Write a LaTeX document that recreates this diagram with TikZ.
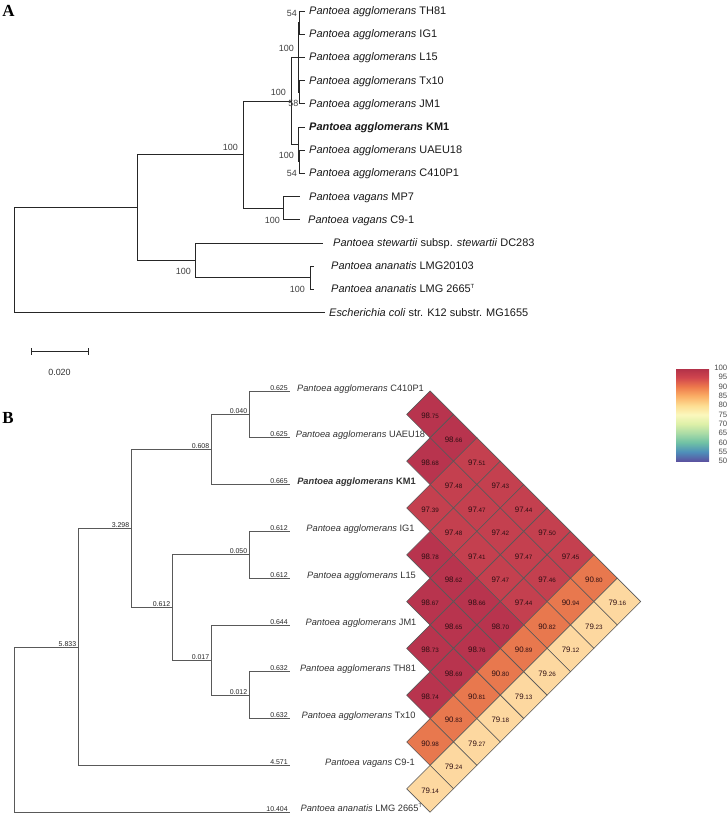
\documentclass[tikz,border=0pt]{standalone}
\usepackage{fontspec}
\setmainfont{Liberation Sans}
\newfontfamily\serifbf{Liberation Serif}
\definecolor{heat98}{HTML}{B8344E}
\definecolor{heat97}{HTML}{C4404F}
\definecolor{heat90}{HTML}{E8784E}
\definecolor{heat79}{HTML}{FDD8A0}
\definecolor{sp100}{HTML}{B03048}
\definecolor{sp95}{HTML}{D0454E}
\definecolor{sp90}{HTML}{EE7A4C}
\definecolor{sp85}{HTML}{FBAF66}
\definecolor{sp80}{HTML}{FDDD92}
\definecolor{sp75}{HTML}{FBF8BD}
\definecolor{sp70}{HTML}{DDF0A8}
\definecolor{sp65}{HTML}{A9DBA6}
\definecolor{sp60}{HTML}{6FC1A5}
\definecolor{sp55}{HTML}{4E8FBA}
\definecolor{sp50}{HTML}{5B52A0}
\definecolor{celltext}{HTML}{2E0E12}
\pgfdeclareverticalshading{spectralbar}{33bp}{color(0bp)=(sp50); color(9.3bp)=(sp55); color(18.6bp)=(sp60); color(27.9bp)=(sp65); color(37.2bp)=(sp70); color(46.5bp)=(sp75); color(55.8bp)=(sp80); color(65.1bp)=(sp85); color(74.4bp)=(sp90); color(83.7bp)=(sp95); color(93bp)=(sp100)}
\tikzset{
  treeA/.style={line width=0.75bp, draw=black!85},
  treeB/.style={line width=0.85bp, draw=black!65},
  taxA/.style={anchor=base west, inner sep=0, font=\fontsize{11}{13}\selectfont, text=black!90},
  boot/.style={anchor=base east, inner sep=0, font=\fontsize{9}{11}\selectfont, text=black!75},
  taxB/.style={anchor=base, inner sep=0, font=\fontsize{9.3}{11}\selectfont, text=black!80},
  bl/.style={anchor=south east, inner sep=0.6bp, font=\fontsize{7}{8}\selectfont, text=black!85},
  cellbox/.style={line width=0.6bp, draw=black!65},
  cellnum/.style={inner sep=0, text=celltext, font=\fontsize{7.9}{8}\selectfont},
  cbl/.style={anchor=east, inner sep=0, font=\fontsize{7.8}{8}\selectfont, text=black!70},
  panel/.style={inner sep=0, font=\fontsize{17}{19}\selectfont\serifbf\bfseries}
}
\begin{document}
\begin{tikzpicture}[x=1bp,y=-1bp]
\useasboundingbox (0,0) rectangle (728,814);
\fill[white] (0,0) rectangle (728,814);

% ---------------- Panel A ----------------
\node[panel] (labA) at (8.5,10.5) {A};

% nodes
\coordinate (ar) at (14,260.05);
\coordinate (a137) at (137,207.5);
\coordinate (a243) at (243,154.55);
\coordinate (aagg) at (291,100.9);
\coordinate (aup) at (298.5,57.4);
\coordinate (ai1) at (299.5,22.6);
\coordinate (ai2) at (299.5,92.2);
\coordinate (alo) at (298.5,144.4);
\coordinate (ai3) at (299.5,161.8);
\coordinate (avag) at (283,208.2);
\coordinate (a195) at (195,260.4);
\coordinate (a310) at (310,277.8);
% tips
\coordinate (eTH81) at (305,11);
\coordinate (eIG1) at (305,34.2);
\coordinate (eL15) at (305,57.4);
\coordinate (eTx10) at (305,80.6);
\coordinate (eJM1) at (305,103.8);
\coordinate (eKM1) at (305,127);
\coordinate (eUAEU) at (305,150.2);
\coordinate (eC410) at (305,173.4);
\coordinate (eMP7) at (300,196.6);
\coordinate (eC91) at (300,219.8);
\coordinate (eStew) at (323,243);
\coordinate (eL201) at (314,266.2);
\coordinate (eL266) at (314,289.4);
\coordinate (eEcoli) at (325,312.6);

\draw[treeA] (ar) |- (a137);
\draw[treeA] (ar) |- (eEcoli);
\draw[treeA] (a137) |- (a243);
\draw[treeA] (a137) |- (a195);
\draw[treeA] (a243) |- (aagg);
\draw[treeA] (a243) |- (avag);
\draw[treeA] (aagg) |- (aup);
\draw[treeA] (aagg) |- (alo);
\draw[treeA] (aup) |- (ai1);
\draw[treeA] (aup) |- (eL15);
\draw[treeA] (aup) |- (ai2);
\draw[treeA] (ai1) |- (eTH81);
\draw[treeA] (ai1) |- (eIG1);
\draw[treeA] (ai2) |- (eTx10);
\draw[treeA] (ai2) |- (eJM1);
\draw[treeA] (alo) |- (eKM1);
\draw[treeA] (alo) |- (ai3);
\draw[treeA] (ai3) |- (eUAEU);
\draw[treeA] (ai3) |- (eC410);
\draw[treeA] (avag) |- (eMP7);
\draw[treeA] (avag) |- (eC91);
\draw[treeA] (a195) |- (eStew);
\draw[treeA] (a195) |- (a310);
\draw[treeA] (a310) |- (eL201);
\draw[treeA] (a310) |- (eL266);

% taxon labels A
\node[taxA] (tTH81) at (309,14.5) {\textit{Pantoea agglomerans} TH81};
\node[taxA] (tIG1) at (309,37.7) {\textit{Pantoea agglomerans} IG1};
\node[taxA] (tL15) at (309,60.9) {\textit{Pantoea agglomerans} L15};
\node[taxA] (tTx10) at (309,84.1) {\textit{Pantoea agglomerans} Tx10};
\node[taxA] (tJM1) at (309,107.3) {\textit{Pantoea agglomerans} JM1};
\node[taxA] (tKM1) at (309,130.5) {\bfseries\itshape Pantoea agglomerans \upshape KM1};
\node[taxA] (tUAEU) at (309,153.7) {\textit{Pantoea agglomerans} UAEU18};
\node[taxA] (tC410) at (309,176.9) {\textit{Pantoea agglomerans} C410P1};
\node[taxA] (tMP7) at (309,200.1) {\textit{Pantoea vagans} MP7};
\node[taxA] (tC91) at (308,223.3) {\textit{Pantoea vagans} C9-1};
\node[taxA] (tStew) at (333,246.5) {\textit{Pantoea stewartii} subsp. \textit{stewartii} DC283};
\node[taxA] (tL201) at (331,269.7) {\textit{Pantoea ananatis} LMG20103};
\node[taxA] (tL266) at (331,292.9) {\textit{Pantoea ananatis} LMG 2665\textsuperscript{\fontsize{6}{7}\selectfont T}};
\node[taxA] (tEcoli) at (329,316.1) {\textit{Escherichia coli} str. K12 substr. MG1655};

% bootstrap values
\node[boot] (b1) at (297,17) {54};
\node[boot] (b2) at (294,52) {100};
\node[boot] (b3) at (286,95) {100};
\node[boot] (b4) at (298.5,106.5) {58};
\node[boot] (b5) at (294,158) {100};
\node[boot] (b6) at (297,176) {54};
\node[boot] (b7) at (238,150) {100};
\node[boot] (b8) at (280,223) {100};
\node[boot] (b9) at (191,274) {100};
\node[boot] (b10) at (305,292) {100};

% scale bar
\coordinate (sb1) at (31,351);
\coordinate (sb2) at (88,351);
\draw[treeA] (sb1) -- (sb2);
\draw[treeA] ([yshift=-3.5bp]sb1) -- ([yshift=3.5bp]sb1);
\draw[treeA] ([yshift=-3.5bp]sb2) -- ([yshift=3.5bp]sb2);
\node[inner sep=0, font=\fontsize{9}{11}\selectfont, text=black!80] (sbl) at (59.5,372) {0.020};

% ---------------- Panel B ----------------
\node[panel] (labB) at (8,417.5) {B};

\coordinate (br) at (14,729.6);
\coordinate (b5833) at (78,647);
\coordinate (b3298) at (131,528.5);
\coordinate (b608) at (211,449.5);
\coordinate (b040) at (249,414.4);
\coordinate (b612) at (172,607.45);
\coordinate (b050) at (249,554.8);
\coordinate (b017) at (211,660.1);
\coordinate (b012) at (249,695.2);
\coordinate (fC410) at (290,391);
\coordinate (fUAEU) at (290,437.8);
\coordinate (fKM1) at (290,484.6);
\coordinate (fIG1) at (290,531.4);
\coordinate (fL15) at (290,578.2);
\coordinate (fJM1) at (290,625);
\coordinate (fTH81) at (290,671.8);
\coordinate (fTx10) at (290,718.6);
\coordinate (fC91) at (290,765.4);
\coordinate (fLMG) at (290,812.2);

\draw[treeB] (br) |- (b5833);
\draw[treeB] (br) |- (fLMG);
\draw[treeB] (b5833) |- (b3298);
\draw[treeB] (b5833) |- (fC91);
\draw[treeB] (b3298) |- (b608);
\draw[treeB] (b3298) |- (b612);
\draw[treeB] (b608) |- (b040);
\draw[treeB] (b608) |- (fKM1);
\draw[treeB] (b040) |- (fC410);
\draw[treeB] (b040) |- (fUAEU);
\draw[treeB] (b612) |- (b050);
\draw[treeB] (b612) |- (b017);
\draw[treeB] (b050) |- (fIG1);
\draw[treeB] (b050) |- (fL15);
\draw[treeB] (b017) |- (fJM1);
\draw[treeB] (b017) |- (b012);
\draw[treeB] (b012) |- (fTH81);
\draw[treeB] (b012) |- (fTx10);

% branch lengths
\node[bl] (l040) at ([xshift=-1bp]b040) {0.040};
\node[bl] (l608) at ([xshift=-1bp]b608) {0.608};
\node[bl] (l3298) at ([xshift=-1bp]b3298) {3.298};
\node[bl] (l050) at ([xshift=-1bp]b050) {0.050};
\node[bl] (l612) at ([xshift=-1bp]b612) {0.612};
\node[bl] (l017) at ([xshift=-1bp]b017) {0.017};
\node[bl] (l012) at ([xshift=-1bp]b012) {0.012};
\node[bl] (l5833) at ([xshift=-1bp]b5833) {5.833};
\node[bl] (lC410) at ([xshift=-1.5bp]fC410) {0.625};
\node[bl] (lUAEU) at ([xshift=-1.5bp]fUAEU) {0.625};
\node[bl] (lKM1) at ([xshift=-1.5bp]fKM1) {0.665};
\node[bl] (lIG1) at ([xshift=-1.5bp]fIG1) {0.612};
\node[bl] (lL15) at ([xshift=-1.5bp]fL15) {0.612};
\node[bl] (lJM1) at ([xshift=-1.5bp]fJM1) {0.644};
\node[bl] (lTH81) at ([xshift=-1.5bp]fTH81) {0.632};
\node[bl] (lTx10) at ([xshift=-1.5bp]fTx10) {0.632};
\node[bl] (lC91) at ([xshift=-1.5bp]fC91) {4.571};
\node[bl] (lLMG) at ([xshift=-1.5bp]fLMG) {10.404};

% taxon labels B
\node[taxB] (uC410) at (360.5,391) {\textit{Pantoea agglomerans} C410P1};
\node[taxB] (uUAEU) at (360.5,437.8) {\textit{Pantoea agglomerans} UAEU18};
\node[taxB] (uKM1) at (356.5,484.6) {\bfseries\itshape Pantoea agglomerans \upshape KM1};
\node[taxB] (uIG1) at (360.5,531.4) {\textit{Pantoea agglomerans} IG1};
\node[taxB] (uL15) at (361.5,578.2) {\textit{Pantoea agglomerans} L15};
\node[taxB] (uJM1) at (361,625) {\textit{Pantoea agglomerans} JM1};
\node[taxB] (uTH81) at (358,671.8) {\textit{Pantoea agglomerans} TH81};
\node[taxB] (uTx10) at (358.5,718.6) {\textit{Pantoea agglomerans} Tx10};
\node[taxB] (uC91) at (370,765.4) {\textit{Pantoea vagans} C9-1};
\node[taxB] (uLMG) at (361.5,811.5) {\textit{Pantoea ananatis} LMG 2665\textsuperscript{\fontsize{5.5}{6}\selectfont T}};

% heatmap
\foreach \s/\k/\a/\b in {
 1/0/98/75,
 2/1/98/66,
 3/0/98/68, 3/2/97/51,
 4/1/97/48, 4/3/97/43,
 5/0/97/39, 5/2/97/47, 5/4/97/44,
 6/1/97/48, 6/3/97/42, 6/5/97/50,
 7/0/98/78, 7/2/97/41, 7/4/97/47, 7/6/97/45,
 8/1/98/62, 8/3/97/47, 8/5/97/46, 8/7/90/80,
 9/0/98/67, 9/2/98/66, 9/4/97/44, 9/6/90/94, 9/8/79/16,
 10/1/98/65, 10/3/98/70, 10/5/90/82, 10/7/79/23,
 11/0/98/73, 11/2/98/76, 11/4/90/89, 11/6/79/12,
 12/1/98/69, 12/3/90/80, 12/5/79/26,
 13/0/98/74, 13/2/90/81, 13/4/79/13,
 14/1/90/83, 14/3/79/18,
 15/0/90/98, 15/2/79/27,
 16/1/79/24,
 17/0/79/14}{
  \pgfmathsetmacro\cx{430.1+23.4*\k}
  \pgfmathsetmacro\cy{391+23.4*\s}
  \draw[cellbox, fill=heat\a] (\cx,{\cy-23.4}) -- ({\cx+23.4},\cy) -- (\cx,{\cy+23.4}) -- ({\cx-23.4},\cy) -- cycle;
  \node[cellnum] (c-\s-\k) at (\cx,{\cy+1.5}) {\a{\fontsize{6.3}{7}\selectfont.\b}};
}

% colour bar
\node[inner sep=0, anchor=north west] (cbar) at (676,368) {\pgfuseshading{spectralbar}};
\foreach \v in {100,95,90,85,80,75,70,65,60,55,50}{
  \pgfmathsetmacro\yy{461-(\v-50)*1.86}
  \node[cbl] (cb-\v) at (727.5,\yy) {\v};
}
\end{tikzpicture}
\end{document}
